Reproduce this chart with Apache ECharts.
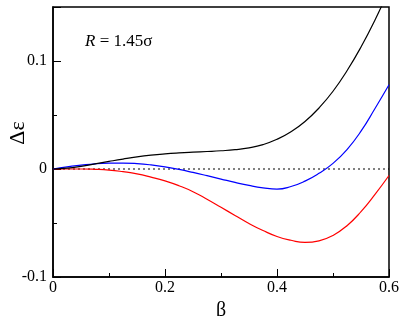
<!DOCTYPE html>
<html>
<head>
<meta charset="utf-8">
<script src="https://cdn.jsdelivr.net/npm/echarts@6/dist/echarts.min.js"></script>
<style>
  html, body { margin: 0; padding: 0; background: #fff; }
  #chart { width: 403px; height: 316px; }
</style>
</head>
<body>
<div id="chart"></div>
<script>
// beta values (x) and the three energy-difference curves
var betaValues = [0, 0.025, 0.05, 0.075, 0.1, 0.125, 0.15, 0.175, 0.2, 0.225, 0.25, 0.275, 0.3,
                  0.325, 0.35, 0.375, 0.4, 0.425, 0.45, 0.475, 0.5, 0.525, 0.55, 0.575, 0.6];
var blackCurve = [0, 0.0008, 0.0025, 0.0047, 0.007, 0.0092, 0.0112, 0.0128, 0.014, 0.0149, 0.0156, 0.0162, 0.0169,
                  0.0179, 0.0196, 0.0226, 0.0275, 0.0345, 0.044, 0.0565, 0.072, 0.091, 0.113, 0.138, 0.166];
var blueCurve  = [0, 0.002, 0.0035, 0.0048, 0.0054, 0.0055, 0.005, 0.0038, 0.002, -0.0004, -0.0032, -0.0062, -0.0093,
                  -0.0124, -0.0152, -0.0174, -0.0186, -0.0162, -0.0112, -0.004, 0.0052, 0.018, 0.035, 0.056, 0.078];
var redCurve   = [0, 0, 0, -0.0003, -0.001, -0.0025, -0.0045, -0.0075, -0.011, -0.0155, -0.021, -0.028, -0.0355,
                  -0.043, -0.0505, -0.057, -0.0625, -0.066, -0.068, -0.0665, -0.0615, -0.0525, -0.0395, -0.0235, -0.006];
var xTicks = [0, 0.2, 0.4, 0.6];
var yTicks = [-0.1, 0, 0.1];
var zeroLine = [[0, 0], [0.6, 0]];

function pairs(ys) {
    return betaValues.map(function (b, i) { return [b, ys[i]]; });
}

var serif = 'Liberation Serif';
var chart = echarts.init(document.getElementById('chart'));

chart.setOption({
    animation: false,
    backgroundColor: '#fff',
    grid: {
        left: 53, right: 14, top: 7, bottom: 39,
        outerBoundsMode: 'none', containLabel: false,
        show: true, borderColor: '#000', borderWidth: 1.5
    },
    xAxis: {
        type: 'value',
        min: 0, max: 0.6, interval: 0.2,
        axisLine: { show: true, onZero: false, lineStyle: { color: '#000', width: 1.5 } },
        axisTick: { inside: true, length: 8, lineStyle: { color: '#000' } },
        minorTick: { show: true, splitNumber: 2, length: 4, lineStyle: { color: '#000' } },
        splitLine: { show: false },
        axisLabel: {
            color: '#000', fontFamily: serif, fontSize: 16, margin: 3,
            formatter: function (v) { var r = +v.toFixed(2); return xTicks.indexOf(r) >= 0 ? String(r) : ''; }
        },
        name: 'β', nameLocation: 'middle', nameGap: 20,
        nameTextStyle: { color: '#000', fontFamily: serif, fontSize: 20 }
    },
    yAxis: {
        type: 'value',
        min: -0.1, max: 0.15, interval: 0.1,
        axisLine: { show: true, onZero: false, lineStyle: { color: '#000', width: 1.5 } },
        axisTick: { inside: true, length: 8, lineStyle: { color: '#000' } },
        minorTick: { show: true, splitNumber: 2, length: 4, lineStyle: { color: '#000' } },
        splitLine: { show: false },
        axisLabel: {
            color: '#000', fontFamily: serif, fontSize: 16, margin: 6,
            showMaxLabel: false,
            formatter: function (v) { var r = +v.toFixed(2); return yTicks.indexOf(r) >= 0 ? String(r) : ''; }
        }
    },
    graphic: [
        {
            type: 'text', x: 85, y: 42,
            style: {
                text: '{i|R} = 1.45σ',
                fill: '#000', font: '17px "Liberation Serif"', verticalAlign: 'middle',
                rich: { i: { fontStyle: 'italic', fontFamily: serif, fontSize: 17 } }
            }
        },
        {
            type: 'text', x: 18, y: 133, rotation: Math.PI / 2,
            style: {
                text: 'Δε', fill: '#000', font: '22px "Liberation Serif"',
                align: 'center', verticalAlign: 'middle'
            }
        }
    ],
    series: [
        {
            type: 'line', data: zeroLine, symbol: 'none', silent: true,
            lineStyle: { color: '#000', width: 1, type: [2, 3] }
        },
        {
            type: 'line', data: pairs(redCurve), symbol: 'none', smooth: 0.5,
            lineStyle: { color: '#ff0000', width: 1.2 }
        },
        {
            type: 'line', data: pairs(blueCurve), symbol: 'none', smooth: 0.5,
            lineStyle: { color: '#0000ff', width: 1.2 }
        },
        {
            type: 'line', data: pairs(blackCurve), symbol: 'none', smooth: 0.5, clip: true,
            lineStyle: { color: '#000', width: 1.2 }
        }
    ]
});
</script>
</body>
</html>
